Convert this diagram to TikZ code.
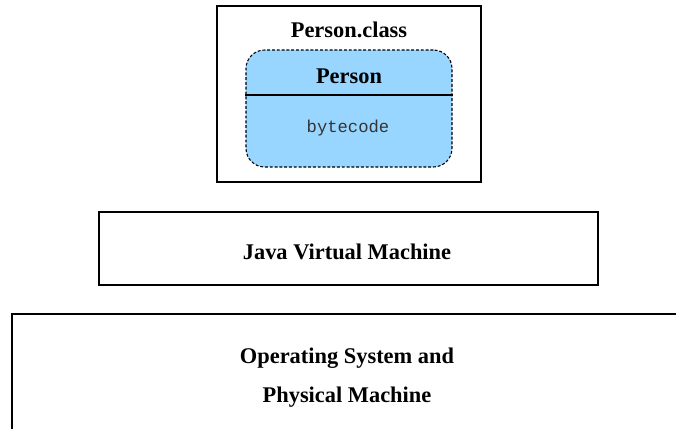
\documentclass[tikz,border=0pt]{standalone}
\usepackage{fontspec}
\setmainfont{Liberation Serif}
\setmonofont{Liberation Mono}
\definecolor{classBlue}{RGB}{153,214,255}

\begin{document}
\begin{tikzpicture}[x=0.75pt, y=-0.75pt,
    fileBoxStyle/.style={draw, line width=0.9pt, minimum width=198pt, minimum height=132pt},
    classBoxStyle/.style={draw, dash pattern=on 2.2pt off 1.4pt, line width=0.8pt, fill=classBlue, rounded corners=14pt, minimum width=154.5pt, minimum height=87.75pt},
    layerBoxStyle/.style={draw, line width=0.9pt},
    labelStyle/.style={anchor=base, font=\fontsize{16.8}{20}\selectfont\bfseries},
    codeStyle/.style={anchor=base, font=\fontsize{12.9}{15}\selectfont\ttfamily, text=black!80}]

    \useasboundingbox (0,0) rectangle (676,429);

    % Person.class file
    \node[fileBoxStyle] (fileBox) at (349, 94) {};
    \node[classBoxStyle] (classBox) at (349, 108.5) {};
    \coordinate (divY) at (349, 95);
    \draw[line width=0.8pt] (classBox.west |- divY) -- (classBox.east |- divY);
    \node[labelStyle] (fileLbl) at (349, 37) {Person.class};
    \node[labelStyle] (classLbl) at (349, 83) {Person};
    \node[codeStyle] (codeLbl) at (348, 132) {bytecode};

    % JVM layer
    \node[layerBoxStyle, minimum width=374.25pt, minimum height=54.75pt] (jvm) at (348.5, 248.5) {};
    \node[labelStyle] (jvmLbl) at (347, 259) {Java Virtual Machine};

    % OS layer, runs past the page edge
    \node[layerBoxStyle, minimum width=505.5pt, minimum height=97.5pt] (os) at (349, 379) {};
    \node[labelStyle, anchor=center, align=center, font=\fontsize{16.8}{29.25}\selectfont\bfseries] (osLbl) at (347, 378) {Operating System and\\Physical Machine};
\end{tikzpicture}
\end{document}
